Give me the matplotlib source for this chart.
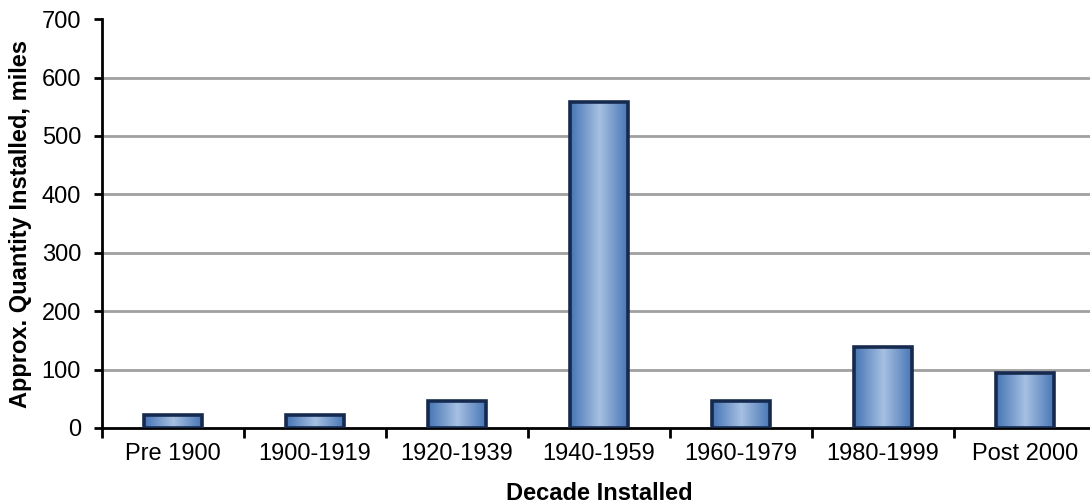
import matplotlib.pyplot as plt
import numpy as np
from matplotlib.colors import LinearSegmentedColormap

plt.rcParams['font.family'] = ['Liberation Sans', 'DejaVu Sans']

decades = ["Pre 1900", "1900-1919", "1920-1939", "1940-1959", "1960-1979", "1980-1999", "Post 2000"]
miles = [22, 22, 46, 558, 46, 139, 94]
yticks = [0, 100, 200, 300, 400, 500, 600, 700]

fig = plt.figure(figsize=(10.9, 5.04), dpi=100)
# plot area runs slightly past the right edge of the picture, as in the original
ax = fig.add_axes([0.0935, 0.151, 0.912, 0.811])

x = np.arange(len(decades))
bars = ax.bar(x, miles, width=0.41, facecolor='none', edgecolor='#152a4e', linewidth=2.6, zorder=3)

cmap = LinearSegmentedColormap.from_list("barfill", ["#4674b4", "#a6c0e2", "#4674b4"])
grad = np.linspace(0, 1, 256).reshape(1, -1)
for b in bars:
    x0, y0 = b.get_x(), b.get_y()
    w, h = b.get_width(), b.get_height()
    im = ax.imshow(grad, cmap=cmap, aspect='auto', extent=[x0, x0 + w, y0, y0 + h], zorder=2)
    im.set_clip_path(b)

for t in yticks[1:-1]:
    ax.axhline(t, color='#a0a0a0', linewidth=2, zorder=1)

ax.set_xlim(-0.5, len(decades) - 0.5)
ax.set_ylim(0, 700)
ax.set_yticks(yticks)
ax.set_xticks(x)
ax.set_xticklabels(decades)
ax.set_xticks(np.arange(-0.5, len(decades)), minor=True)
ax.tick_params(axis='x', which='major', length=0, labelsize=17, pad=11)
ax.tick_params(axis='x', which='minor', length=7, width=2, direction='out')
ax.tick_params(axis='y', length=6, width=2, direction='out', labelsize=17, pad=9)

for s in ['top', 'right']:
    ax.spines[s].set_visible(False)
for s in ['left', 'bottom']:
    ax.spines[s].set_linewidth(2)

ax.set_xlabel("Decade Installed", fontsize=17, fontweight='bold', labelpad=12)
ax.set_ylabel("Approx. Quantity Installed, miles", fontsize=17, fontweight='bold', labelpad=7)

plt.savefig("out.png", dpi=100)
